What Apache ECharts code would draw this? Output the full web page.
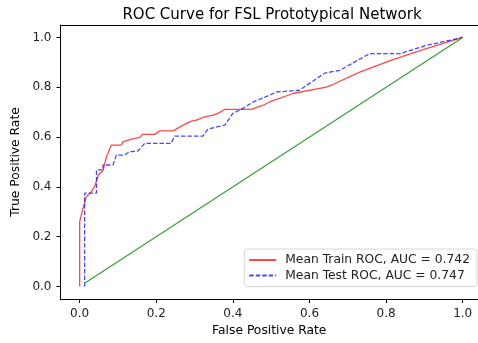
<!DOCTYPE html>
<html>
<head>
<meta charset="utf-8">
<script src="https://cdn.jsdelivr.net/npm/echarts@6/dist/echarts.min.js"></script>
<style>
  html, body { margin: 0; padding: 0; background: #fff; }
  #board { width: 478px; height: 343px; }
</style>
</head>
<body>
<div id="board"></div>
<script>
// ROC points
var trainFpr = [0, 0, 0.009, 0.017, 0.03, 0.039, 0.045, 0.05, 0.061, 0.07, 0.078, 0.083, 0.109, 0.113, 0.135, 0.157, 0.164, 0.196, 0.209, 0.244, 0.27, 0.292, 0.305, 0.322, 0.348, 0.361, 0.379, 0.448, 0.479, 0.496, 0.557, 0.644, 0.661, 0.731, 0.818, 0.905, 1];
var trainTpr = [0, 0.26, 0.315, 0.36, 0.38, 0.40, 0.43, 0.45, 0.465, 0.52, 0.55, 0.568, 0.568, 0.581, 0.592, 0.599, 0.611, 0.611, 0.625, 0.625, 0.648, 0.664, 0.668, 0.679, 0.688, 0.695, 0.711, 0.711, 0.728, 0.741, 0.775, 0.801, 0.811, 0.861, 0.911, 0.955, 1];

var testFpr = [0.013, 0.013, 0.044, 0.044, 0.061, 0.061, 0.087, 0.096, 0.117, 0.13, 0.152, 0.17, 0.239, 0.248, 0.322, 0.335, 0.379, 0.40, 0.422, 0.453, 0.496, 0.514, 0.574, 0.64, 0.679, 0.757, 0.836, 0.905, 1];
var testTpr = [0, 0.375, 0.375, 0.468, 0.468, 0.488, 0.488, 0.528, 0.528, 0.541, 0.544, 0.575, 0.575, 0.604, 0.604, 0.632, 0.648, 0.695, 0.711, 0.741, 0.768, 0.781, 0.788, 0.857, 0.868, 0.935, 0.935, 0.968, 1];

var chanceX = [0.012, 1];
var chanceY = [0.012, 1];

var tickValues = [0, 0.2, 0.4, 0.6, 0.8, 1.0];

function pairs(xs, ys) {
  return xs.map(function (x, i) { return [x, ys[i]]; });
}

var font = "DejaVu Sans";

var tickLabel = {
  fontFamily: font, fontSize: 12, color: "#222", margin: 9,
  customValues: tickValues,
  formatter: function (v) { return v.toFixed(1); }
};

var options = {
  animation: false,
  title: {
    text: "ROC Curve for FSL Prototypical Network",
    left: 267,
    top: 3,
    textAlign: "center",
    textStyle: { fontFamily: font, fontSize: 15, fontWeight: "normal", color: "#000" }
  },
  legend: {
    orient: "vertical",
    right: 1,
    top: 249,
    itemWidth: 27,
    itemHeight: 14,
    itemGap: 3.6,
    padding: [5, 7, 5, 4],
    borderColor: "#d6d6d6",
    borderWidth: 1,
    borderRadius: 3,
    backgroundColor: "rgba(255,255,255,0.8)",
    itemStyle: { opacity: 0 },
    textStyle: { fontFamily: font, fontSize: 12.3, color: "#222", padding: [0, 0, 0, 4] },
    data: ["Mean Train ROC, AUC = 0.742", "Mean Test ROC, AUC = 0.747"]
  },
  grid: {
    left: 60.5,
    right: 0,
    top: 25,
    bottom: 44
  },
  xAxis: [
    {
      type: "value",
      min: -0.05,
      max: 1.04,
      name: "False Positive Rate",
      nameLocation: "middle",
      nameGap: 24,
      nameTextStyle: { fontFamily: font, fontSize: 12.3, color: "#000" },
      axisLine: { show: true, onZero: false, lineStyle: { color: "#000" } },
      axisTick: { show: true, length: 4, customValues: tickValues, lineStyle: { color: "#000" } },
      axisLabel: tickLabel,
      splitLine: { show: false }
    },
    {
      // top frame line of the plot box
      type: "value",
      position: "top",
      min: -0.05,
      max: 1.04,
      axisLine: { show: true, onZero: false, lineStyle: { color: "#000" } },
      axisTick: { show: false },
      axisLabel: { show: false },
      splitLine: { show: false }
    }
  ],
  yAxis: {
    type: "value",
    min: -0.05,
    max: 1.05,
    name: "True Positive Rate",
    nameLocation: "middle",
    nameRotate: 90,
    nameGap: 36,
    nameTextStyle: { fontFamily: font, fontSize: 12.3, color: "#000" },
    axisLine: { show: true, onZero: false, lineStyle: { color: "#000" } },
    axisTick: { show: true, length: 4, customValues: tickValues, lineStyle: { color: "#000" } },
    axisLabel: tickLabel,
    splitLine: { show: false }
  },
  series: [
    {
      name: "Mean Train ROC, AUC = 0.742",
      type: "line",
      data: pairs(trainFpr, trainTpr),
      showSymbol: false,
      symbol: "none",
      itemStyle: { color: "rgba(255,0,0,0.72)" },
      lineStyle: { color: "rgba(255,0,0,0.72)", width: 1.3 }
    },
    {
      name: "Mean Test ROC, AUC = 0.747",
      type: "line",
      data: pairs(testFpr, testTpr),
      showSymbol: false,
      symbol: "none",
      itemStyle: { color: "rgba(0,0,255,0.72)" },
      lineStyle: { color: "rgba(0,0,255,0.72)", width: 1.3, type: [4.5, 2] }
    },
    {
      name: "chance",
      type: "line",
      data: pairs(chanceX, chanceY),
      showSymbol: false,
      symbol: "none",
      lineStyle: { color: "#3c9e3c", width: 1.3 }
    }
  ]
};

var myChart = echarts.init(document.getElementById("board"));
myChart.setOption(options);
</script>
</body>
</html>
